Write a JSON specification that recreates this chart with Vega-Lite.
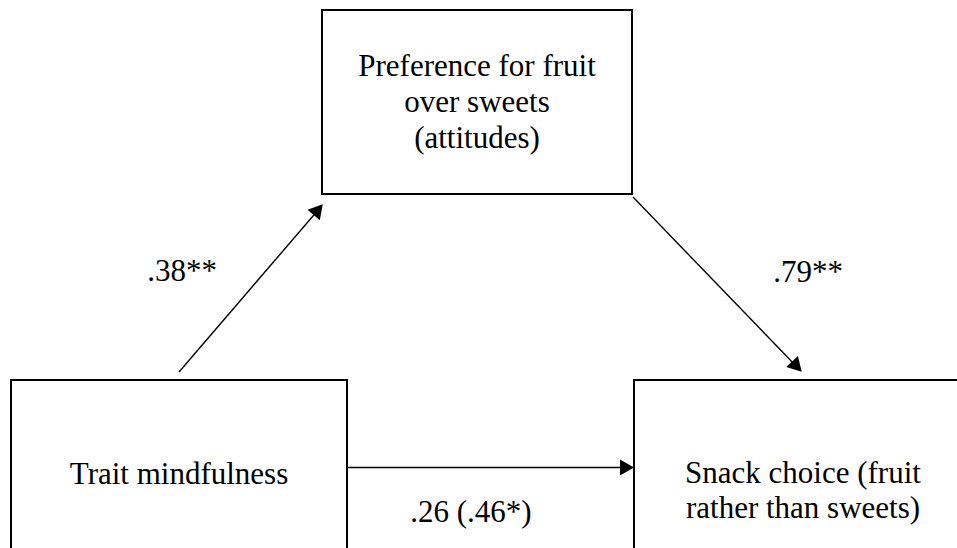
{
  "$schema": "https://vega.github.io/schema/vega-lite/v6.json",
  "width": 957,
  "height": 548,
  "padding": 0,
  "autosize": {"type": "fit", "contains": "padding"},
  "background": "white",
  "config": {"view": {"stroke": null}},
  "datasets": {
    "boxes": [
      {"node": "Mediator", "x0": 322, "x1": 632, "y0": 10, "y1": 194},
      {"node": "Predictor", "x0": 11, "x1": 347, "y0": 380, "y1": 560},
      {"node": "Outcome", "x0": 634, "x1": 975, "y0": 380, "y1": 560}
    ],
    "paths": [
      {"path": "a", "x0": 179, "y0": 372, "x1": 319, "y1": 209},
      {"path": "b", "x0": 633, "y0": 197, "x1": 797, "y1": 367},
      {"path": "c", "x0": 347, "y0": 467.5, "x1": 624, "y1": 467.5}
    ],
    "heads": [
      {"path": "a", "x": 318.2, "y": 209.6, "dir": 40.6},
      {"path": "b", "x": 796.9, "y": 366.6, "dir": 136.3},
      {"path": "c", "x": 627, "y": 467.5, "dir": 90}
    ],
    "labels": [
      {"text": "Preference for fruit", "x": 477, "y": 76},
      {"text": "over sweets", "x": 477, "y": 112},
      {"text": "(attitudes)", "x": 477, "y": 148},
      {"text": "Trait mindfulness", "x": 179, "y": 484},
      {"text": "Snack choice (fruit", "x": 803, "y": 483},
      {"text": "rather than sweets)", "x": 803, "y": 518},
      {"text": ".38**", "x": 182, "y": 281},
      {"text": ".79**", "x": 808, "y": 282},
      {"text": ".26 (.46*)", "x": 471, "y": 522}
    ]
  },
  "layer": [
    {
      "data": {"name": "boxes"},
      "mark": {"type": "rect", "fill": "white", "stroke": "black", "strokeWidth": 2, "clip": true},
      "encoding": {
        "x": {"field": "x0", "type": "quantitative", "scale": {"domain": [0, 957], "nice": false, "zero": false}, "axis": null},
        "x2": {"field": "x1"},
        "y": {"field": "y0", "type": "quantitative", "scale": {"domain": [0, 548], "nice": false, "zero": false, "reverse": true}, "axis": null},
        "y2": {"field": "y1"}
      }
    },
    {
      "data": {"name": "paths"},
      "mark": {"type": "rule", "color": "black", "strokeWidth": 1.4},
      "encoding": {
        "x": {"field": "x0", "type": "quantitative", "scale": {"domain": [0, 957], "nice": false, "zero": false}, "axis": null},
        "x2": {"field": "x1"},
        "y": {"field": "y0", "type": "quantitative", "scale": {"domain": [0, 548], "nice": false, "zero": false, "reverse": true}, "axis": null},
        "y2": {"field": "y1"}
      }
    },
    {
      "data": {"name": "heads"},
      "mark": {"type": "point", "shape": "triangle-up", "filled": true, "color": "black", "opacity": 1, "size": 260},
      "encoding": {
        "x": {"field": "x", "type": "quantitative", "scale": {"domain": [0, 957], "nice": false, "zero": false}, "axis": null},
        "y": {"field": "y", "type": "quantitative", "scale": {"domain": [0, 548], "nice": false, "zero": false, "reverse": true}, "axis": null},
        "angle": {"field": "dir", "type": "quantitative", "scale": null}
      }
    },
    {
      "data": {"name": "labels"},
      "mark": {"type": "text", "font": "Liberation Serif", "fontSize": 31, "align": "center", "baseline": "alphabetic", "color": "black"},
      "encoding": {
        "x": {"field": "x", "type": "quantitative", "scale": {"domain": [0, 957], "nice": false, "zero": false}, "axis": null},
        "y": {"field": "y", "type": "quantitative", "scale": {"domain": [0, 548], "nice": false, "zero": false, "reverse": true}, "axis": null},
        "text": {"field": "text"}
      }
    }
  ]
}
